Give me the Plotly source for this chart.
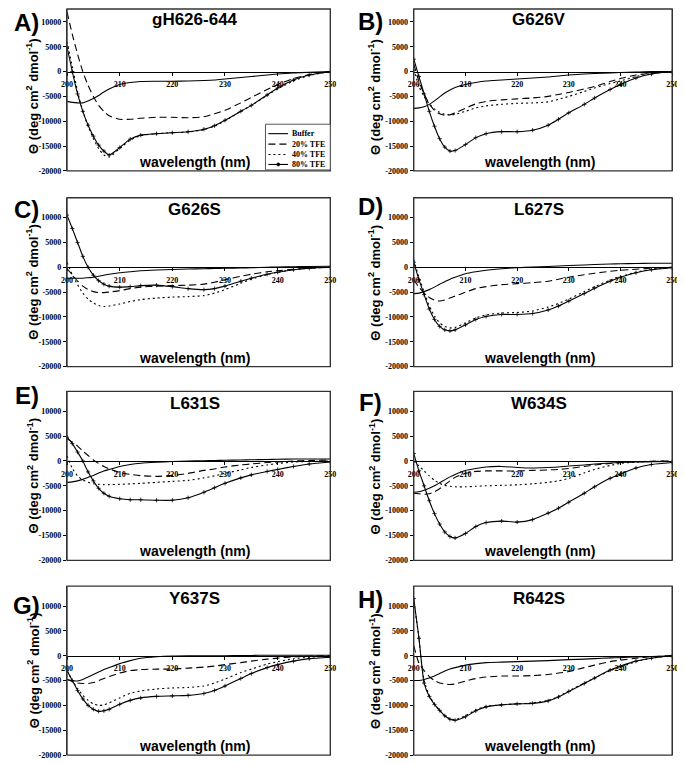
import plotly.graph_objects as go

# wavelengths (nm) at which the CD spectra were read
wl = [200, 201, 202, 203, 204, 205, 206, 207, 208, 210, 212, 214, 217,
      220, 223, 226, 228, 230, 233, 235, 238, 240, 243, 246, 250]

series_names = ["Buffer", "20% TFE", "40% TFE", "80% TFE"]
panel_titles = ["gH626-644", "G626V", "G626S", "L627S", "L631S", "W634S", "Y637S", "R642S"]
panel_letters = ["A)", "B)", "C)", "D)", "E)", "F)", "G)", "H)"]
x_ticks = [200, 210, 220, 230, 240, 250]
y_ticks = [-20000, -15000, -10000, -5000, 0, 5000, 10000]

# A) gH626-644
a_buf = [-6000, -6200, -6300, -6300, -5900, -5400, -4800, -4100, -3500, -2600, -2200, -2000, -1950,
         -1950, -1900, -1800, -1700, -1500, -1200, -1000, -700, -500, -300, -150, 0]
a_20 = [12000, 7500, 3500, 0, -2800, -5000, -6800, -8000, -8900, -9600, -9600, -9400, -9200,
        -9200, -9300, -9100, -8500, -7800, -6300, -5200, -3600, -2600, -1400, -600, 0]
a_40 = [6000, 1000, -4000, -8000, -11000, -13500, -15500, -16800, -17200, -15500, -13800, -12900, -12500,
        -12300, -12200, -11700, -11000, -9900, -8000, -6800, -4800, -3500, -1900, -800, 0]
a_80 = [5000, 0, -4500, -8000, -10800, -13000, -14800, -16000, -16800, -15300, -13600, -12800, -12500,
        -12300, -12100, -11600, -10900, -9800, -8000, -6800, -4700, -3300, -1700, -700, 0]

# B) G626V
b_buf = [-7400, -7300, -7100, -6600, -5900, -5100, -4300, -3700, -3200, -2600, -2200, -1900, -1700,
         -1500, -1300, -1100, -900, -700, -500, -400, -300, -200, -100, 0, 0]
b_20 = [1500, -2000, -4500, -6500, -7800, -8500, -8800, -8700, -8300, -7400, -6500, -6000, -5700,
        -5500, -5300, -5000, -4600, -4200, -3500, -3000, -2000, -1400, -700, -300, 0]
b_40 = [500, -3000, -5000, -6500, -7500, -8200, -8600, -8700, -8600, -8000, -7300, -6900, -6600,
        -6400, -6300, -6100, -5600, -5000, -4000, -3300, -2400, -1900, -1000, -400, 0]
b_80 = [2500, -1000, -4500, -8000, -11000, -13500, -15200, -16000, -15900, -14700, -13300, -12500, -12100,
        -12100, -11800, -10800, -9600, -8300, -6600, -5300, -3600, -2600, -1300, -500, 0]

# C) G626S
c_buf = [-2200, -2200, -2200, -2200, -2100, -2000, -1800, -1600, -1400, -1100, -900, -700, -550,
         -450, -350, -300, -250, -200, -150, -100, 0, 50, 100, 150, 200]
c_20 = [-300, -1500, -2800, -3800, -4500, -4900, -5100, -5100, -5000, -4700, -4300, -4000, -3800,
        -3700, -3600, -3400, -3000, -2500, -1800, -1400, -900, -700, -400, -200, 0]
c_40 = [1000, -1500, -3500, -5200, -6400, -7200, -7700, -7900, -7800, -7400, -6900, -6500, -6200,
        -6000, -5900, -5700, -5200, -4500, -3200, -2400, -1500, -1000, -500, -200, 0]
c_80 = [10500, 7800, 5000, 2200, 0, -1600, -2700, -3400, -3800, -4000, -3900, -3700, -3600,
        -3900, -4300, -4500, -4300, -3800, -2800, -2200, -1400, -1000, -500, -200, 0]

# D) L627S
d_buf = [-5300, -5200, -4900, -4500, -4000, -3400, -2900, -2400, -2000, -1300, -900, -600, -300,
         -100, 50, 150, 250, 350, 450, 550, 650, 700, 750, 800, 800]
d_20 = [-2500, -4000, -5200, -6100, -6600, -6800, -6600, -6200, -5800, -5000, -4300, -3900, -3500,
        -3300, -3100, -2800, -2400, -2000, -1500, -1200, -800, -600, -400, -200, 0]
d_40 = [1500, -2000, -5000, -7800, -9800, -11200, -11900, -12200, -12100, -11200, -10200, -9600, -9200,
        -9100, -8800, -8000, -7300, -6400, -4900, -3900, -2600, -1900, -1000, -400, 0]
d_80 = [1000, -2500, -5500, -8400, -10500, -11900, -12600, -12800, -12600, -11600, -10500, -9900, -9500,
        -9500, -9300, -8600, -7800, -6800, -5300, -4200, -2800, -2000, -1100, -500, -100]

# E) L631S
e_buf = [-4300, -4200, -4000, -3700, -3300, -2900, -2400, -2000, -1700, -1100, -700, -450, -250,
         -100, 0, 50, 100, 150, 200, 250, 300, 350, 400, 400, 400]
e_20 = [4500, 3800, 3000, 2000, 1100, 200, -500, -1100, -1600, -2300, -2700, -2950, -3100,
        -2900, -2500, -1900, -1600, -1200, -800, -600, -300, -200, 0, 100, 200]
e_40 = [1000, -1500, -3000, -3800, -4300, -4600, -4700, -4750, -4750, -4700, -4600, -4500, -4300,
        -4100, -3900, -3400, -3000, -2500, -1800, -1300, -800, -500, -200, -100, 0]
e_80 = [4800, 3500, 1800, 0, -2200, -4000, -5500, -6500, -7100, -7600, -7800, -7800, -7900,
        -7900, -7400, -6300, -5400, -4500, -3400, -2800, -2100, -1700, -1100, -600, -200]

# F) W634S
f_buf = [-6300, -6200, -5900, -5500, -5000, -4400, -3800, -3200, -2700, -1900, -1500, -1200, -1100,
         -1300, -1400, -1300, -1200, -1000, -800, -600, -400, -300, -200, -150, -100]
f_20 = [-6500, -6600, -6700, -6600, -6200, -5600, -4800, -4000, -3300, -2500, -2100, -2000, -2000,
        -2000, -1900, -1800, -1700, -1500, -1100, -800, -500, -300, -150, -50, 0]
f_40 = [0, -1000, -2000, -3000, -3900, -4500, -4900, -5100, -5200, -5200, -5100, -5000, -4900,
        -4800, -4600, -4300, -4000, -3500, -2400, -1700, -900, -500, -200, -100, 0]
f_80 = [1500, -2000, -5000, -8000, -10600, -12700, -14300, -15200, -15500, -14600, -13200, -12400, -12100,
        -12300, -11800, -10500, -9500, -8300, -6500, -5200, -3500, -2600, -1400, -700, -300]

# G) Y637S
g_buf = [-4800, -5000, -5100, -4800, -4300, -3800, -3300, -2800, -2400, -1600, -1000, -500, -200,
         -50, 0, 0, 0, 0, 50, 50, 100, 100, 100, 100, 100]
g_20 = [-4800, -5200, -5500, -5600, -5600, -5400, -5000, -4600, -4200, -3500, -3000, -2800, -2700,
        -2700, -2500, -2300, -2100, -1800, -1400, -1100, -700, -500, -200, -100, 0]
g_40 = [-3000, -5000, -6600, -8000, -9000, -9700, -10000, -9900, -9500, -8500, -7600, -7100, -6700,
        -6500, -6400, -6100, -5500, -4700, -3400, -2700, -1700, -1200, -600, -300, -100]
g_80 = [-3000, -5000, -7000, -8700, -10000, -10800, -11200, -11100, -10800, -9800, -9000, -8500, -8200,
        -8100, -8000, -7600, -7000, -6100, -4600, -3600, -2400, -1800, -1100, -600, -300]

# H) R642S
h_buf = [-5000, -5000, -4800, -4500, -4100, -3600, -3100, -2700, -2400, -1900, -1600, -1400, -1300,
         -1200, -1100, -1000, -900, -800, -700, -600, -450, -400, -250, -150, 0]
h_20 = [2000, -1500, -3000, -4200, -5000, -5500, -5700, -5800, -5700, -5100, -4600, -4300, -4100,
        -4100, -4000, -3800, -3500, -3200, -2400, -1900, -1200, -900, -500, -200, 0]
h_40 = [11000, 3500, -5000, -8000, -9700, -11000, -12100, -12700, -12900, -12100, -10900, -10200, -9900,
        -9700, -9500, -9000, -8200, -7100, -5500, -4500, -3000, -2300, -1200, -500, 0]
h_80 = [11500, 3500, -5500, -8200, -9800, -11000, -12100, -12800, -13000, -12300, -11100, -10300, -9900,
        -9700, -9600, -9100, -8300, -7200, -5600, -4500, -2900, -2100, -1100, -500, 0]

panels = [
    [a_buf, a_20, a_40, a_80], [b_buf, b_20, b_40, b_80],
    [c_buf, c_20, c_40, c_80], [d_buf, d_20, d_40, d_80],
    [e_buf, e_20, e_40, e_80], [f_buf, f_20, f_40, f_80],
    [g_buf, g_20, g_40, g_80], [h_buf, h_20, h_40, h_80],
]

# page geometry, in pixels of the 685x764 page; the html body adds an 8px margin
PAGE_W, PAGE_H, OFF = 685, 764, 8
FW, FH = PAGE_W - OFF, PAGE_H - OFF
col_left = [62, 415]
col_right = [330, 678]
row_top = [2, 199, 394, 590]
box_h = 170
y_min, y_max = -20000, 14000
per_px = (y_max - y_min) / box_h


def px(x):
    return (x - OFF) / FW


def py(y):
    return 1 - (y - OFF) / FH


dash_styles = ["solid", "7px,4px", "2px,3px", "solid"]
serif_bold = dict(family="Liberation Serif, Times New Roman, serif", size=8, color="black", weight="bold")
sans = "Liberation Sans, Arial, sans-serif"

fig = go.Figure()
layout = {}
annotations = []
shapes = []

for i, series in enumerate(panels):
    r, c = divmod(i, 2)
    n = i + 1
    xs = "" if n == 1 else str(n)
    top = row_top[r]
    bottom = top + box_h
    vis_top = max(top, OFF + 1)
    top_val = y_min + (bottom - vis_top) * per_px
    x0, x1 = px(col_left[c]), px(col_right[c])
    yb, yt = py(bottom), py(vis_top)
    zero_pos = py(top + 70)

    for k, vals in enumerate(series):
        fig.add_trace(go.Scatter(
            x=wl, y=vals, name=series_names[k],
            mode="lines+markers" if k == 3 else "lines",
            line=dict(color="black", width=1.1, dash=dash_styles[k], shape="spline", smoothing=0.6),
            marker=dict(symbol="cross-thin-open", size=3, color="black", line=dict(width=0.8, color="black")),
            xaxis="x" + xs, yaxis="y" + xs, showlegend=False,
        ))

    # wavelength axis crossing at zero
    layout["xaxis" + xs] = dict(
        domain=[x0, x1], range=[200, 250], anchor="free", position=zero_pos,
        showline=True, linecolor="black", linewidth=1, showgrid=False, zeroline=False,
        tickmode="array", tickvals=x_ticks, ticktext=[str(v) for v in x_ticks],
        ticks="outside", ticklen=3, tickcolor="black", tickfont=serif_bold, ticklabelstandoff=2,
    )
    # ellipticity axis; its line and mirror give the left and right edges of the frame
    layout["yaxis" + xs] = dict(
        domain=[yb, yt], range=[y_min, top_val], anchor="x" + xs,
        showgrid=False, zeroline=False,
        tickmode="array", tickvals=y_ticks, ticktext=[str(v) for v in y_ticks],
        ticks="outside", ticklen=3, tickcolor="black", tickfont=serif_bold,
        showline=True, mirror=True, linecolor="#333333", linewidth=1.3,
    )
    # full frame of the panel
    shapes.append(dict(type="rect", xref="paper", yref="paper", x0=x0, x1=x1, y0=yb, y1=yt,
                       line=dict(color="#333333", width=1.3), fillcolor="rgba(0,0,0,0)", layer="above"))

    cx = (col_left[c] + col_right[c]) / 2 - 4
    if r == 0:
        t_y, t_anchor = py(OFF), "top"
    else:
        t_y, t_anchor = py(top + 12), "middle"
    annotations.append(dict(text="<b>%s</b>" % panel_titles[i], x=px(cx), y=t_y,
                            xref="paper", yref="paper", xanchor="center", yanchor=t_anchor,
                            showarrow=False, font=dict(family=sans, size=17, color="black")))
    annotations.append(dict(text="<b>wavelength (nm)</b>", x=px(cx), y=py(top + 161),
                            xref="paper", yref="paper", xanchor="center", yanchor="middle",
                            showarrow=False, font=dict(family=sans, size=14, color="black")))
    ty = top + box_h / 2 + (10 if r == 0 else 0)
    annotations.append(dict(text="<b>Θ (deg cm<sup>2</sup> dmol<sup>-1</sup>)</b>",
                            x=px(27 if c == 0 else 375), y=py(ty),
                            xref="paper", yref="paper", xanchor="center", yanchor="middle",
                            showarrow=False, textangle=-90,
                            font=dict(family=sans, size=13, color="black")))

letter_pos = [(21, 23), (371, 22), (21, 211), (371, 208), (21, 398), (371, 405), (21, 609), (371, 603)]
for (lx, ly), letter in zip(letter_pos, panel_letters):
    annotations.append(dict(text="<b>%s</b>" % letter, x=px(lx), y=py(ly),
                            xref="paper", yref="paper", xanchor="center", yanchor="middle",
                            showarrow=False, font=dict(family=sans, size=24, color="black")))

# legend of panel A (drawn as a small key box)
leg_l, leg_r, leg_t, leg_b = 264, 330, 125, 171
shapes.append(dict(type="rect", xref="paper", yref="paper", x0=px(leg_l), x1=px(leg_r),
                   y0=py(leg_b), y1=py(leg_t), line=dict(color="#555555", width=1),
                   fillcolor="white", layer="above"))
leg_rows = [134.5, 145, 155.5, 165.5]
for k, name in enumerate(series_names):
    ry = leg_rows[k]
    shapes.append(dict(type="line", xref="paper", yref="paper", x0=px(267), x1=px(287),
                       y0=py(ry), y1=py(ry), layer="above",
                       line=dict(color="black", width=1.1, dash=dash_styles[k])))
    annotations.append(dict(text=name, x=px(289), y=py(ry), xref="paper", yref="paper",
                            xanchor="left", yanchor="middle", showarrow=False, font=serif_bold))
shapes.append(dict(type="circle", xref="paper", yref="paper", x0=px(275.5), x1=px(278.5),
                   y0=py(leg_rows[3] + 1.5), y1=py(leg_rows[3] - 1.5), layer="above",
                   line=dict(color="black", width=0.8), fillcolor="black"))

fig.update_layout(
    width=FW, height=FH, margin=dict(l=0, r=0, t=0, b=0),
    paper_bgcolor="white", plot_bgcolor="white", showlegend=False,
    annotations=annotations, shapes=shapes,
    **layout,
)

fig.write_html("out.html")
